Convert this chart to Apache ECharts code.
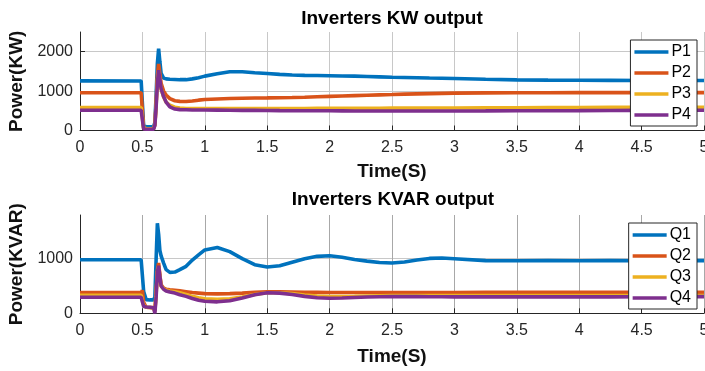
<!DOCTYPE html>
<html><head><meta charset="utf-8">
<script src="https://cdn.jsdelivr.net/npm/echarts@6/dist/echarts.min.js"></script>
<style>html,body{margin:0;padding:0;background:#fff}#c{width:705px;height:371px}</style>
</head><body><div id="c"></div>
<script>
// time samples (s)
const time = [0,0.49,0.5,0.51,0.53,0.56,0.59,0.60,0.61,0.62,0.63,0.64,0.65,0.67,0.69,0.72,0.76,0.8,0.85,0.9,0.95,1.0,1.1,1.2,1.3,1.4,1.5,1.6,1.7,1.8,1.9,2.0,2.1,2.2,2.3,2.4,2.5,2.6,2.7,2.8,2.9,3.0,3.25,3.5,3.75,4.0,4.25,4.5,4.75,5.0];
// Inverters KW output
const p1 = [1260,1258,1250,110,100,95,100,200,900,1700,2080,1750,1450,1330,1310,1300,1295,1290,1290,1310,1340,1380,1440,1490,1490,1465,1445,1425,1410,1400,1395,1390,1385,1380,1370,1360,1350,1345,1340,1332,1326,1320,1300,1285,1278,1276,1272,1268,1268,1268];
const p2 = [960,960,955,60,50,45,50,150,700,1400,1690,1450,1200,1000,900,810,755,740,735,750,770,785,800,812,820,825,828,832,838,845,855,865,875,885,895,905,912,922,930,937,943,948,955,958,960,962,962,962,962,962];
const p3 = [585,585,580,60,50,45,50,150,650,1250,1520,1300,1050,850,720,640,590,570,560,556,555,555,555,556,557,558,558,559,560,560,561,562,563,564,565,566,567,568,569,570,571,572,575,578,582,585,588,590,592,592];
const p4 = [515,515,510,40,30,30,35,130,600,1200,1530,1300,1060,860,720,600,545,530,525,520,520,520,518,515,512,510,508,505,503,501,500,500,498,496,495,494,494,494,494,494,495,495,497,500,503,505,508,512,515,515];
// Inverters KVAR output
const q1 = [980,980,975,400,250,245,245,300,1000,1650,1450,1150,1050,920,800,750,755,800,860,975,1070,1160,1205,1130,1000,890,848,870,935,1000,1043,1055,1025,985,955,930,920,940,975,1005,1012,1000,965,963,965,963,965,963,965,965];
const q2 = [380,380,420,200,110,105,100,50,400,800,920,700,520,460,440,430,420,410,395,380,370,360,355,360,370,385,392,392,390,386,383,380,380,380,381,382,382,382,382,382,382,382,383,383,383,383,383,383,383,383];
const q3 = [330,330,360,150,110,105,100,30,350,750,860,680,500,450,425,410,395,375,345,310,285,265,255,265,300,345,375,375,360,335,315,305,305,310,318,322,325,325,325,325,325,325,325,325,325,325,325,325,325,325];
const q4 = [295,295,300,130,115,110,100,0,300,750,870,680,500,440,410,390,370,340,310,270,240,220,210,230,280,340,375,370,345,310,285,275,280,290,298,303,306,306,305,303,302,300,300,300,300,300,301,302,303,305];

const pNames = ['P1','P2','P3','P4'];
const qNames = ['Q1','Q2','Q3','Q4'];
const colors = ['#0072BD','#D95319','#EDB120','#7E2F8E'];
const titles = ['Inverters KW output','Inverters KVAR output'];
const yNames = ['Power(KW)','Power(KVAR)'];
const xName = 'Time(S)';

const FONT = '"Liberation Sans", Arial, Helvetica, sans-serif';
const pts = arr => time.map((t, i) => [t, arr[i]]);

function xAx(gi, gridColor, gap) {
  return {
    type: 'value', gridIndex: gi, min: 0, max: 5, interval: 0.5,
    name: xName, nameLocation: 'middle', nameGap: gap,
    nameTextStyle: {fontFamily: FONT, fontSize: 19, fontWeight: 'bold', color: '#111'},
    axisLine: {show: true, lineStyle: {color: '#262626', width: 1}},
    axisTick: {show: true, inside: true, length: 5, lineStyle: {color: '#262626'}},
    axisLabel: {margin: 9, fontFamily: FONT, fontSize: 16, color: '#262626', formatter: v => String(v)},
    splitLine: {show: true, showMinLine: false, lineStyle: {color: gridColor, width: 1}}
  };
}
function yAx(gi, max, name) {
  return {
    type: 'value', gridIndex: gi, min: 0, max: max, interval: 1000,
    name: name, nameLocation: 'middle', nameGap: 43,
    nameTextStyle: {fontFamily: FONT, fontSize: 19, fontWeight: 'bold', color: '#111'},
    axisLine: {show: true, lineStyle: {color: '#262626', width: 1}},
    axisTick: {show: true, inside: true, length: 5, lineStyle: {color: '#262626'}},
    axisLabel: {margin: 7, fontFamily: FONT, fontSize: 16, color: '#262626', showMaxLabel: false, formatter: v => String(v)},
    splitLine: {show: true, showMinLine: false, showMaxLine: false, lineStyle: {color: '#c8c8c8', width: 1}}
  };
}
function legendCfg(names, top) {
  return {
    data: names, orient: 'vertical', right: 8, top: top,
    icon: 'rect', itemWidth: 34, itemHeight: 3.5, itemGap: 5,
    padding: [4, 6, 3, 4],
    backgroundColor: '#fff', borderColor: '#262626', borderWidth: 1, borderRadius: 0,
    textStyle: {fontFamily: FONT, fontSize: 16, color: '#000', padding: [0, 0, 0, -2]}
  };
}
const series = [];
[p1, p2, p3, p4].forEach((d, i) => series.push({
  name: pNames[i], type: 'line', xAxisIndex: 0, yAxisIndex: 0, data: pts(d),
  showSymbol: false, symbol: 'none', color: colors[i], lineStyle: {width: 3.6, color: colors[i]}
}));
[q1, q2, q3, q4].forEach((d, i) => series.push({
  name: qNames[i], type: 'line', xAxisIndex: 1, yAxisIndex: 1, data: pts(d),
  showSymbol: false, symbol: 'none', color: colors[i], lineStyle: {width: 3.6, color: colors[i]}
}));

const chart = echarts.init(document.getElementById('c'));
chart.setOption({
  animation: false,
  backgroundColor: '#fff',
  grid: [
    {left: 80, top: 32, width: 624, height: 98.5, outerBoundsMode: 'none', containLabel: false},
    {left: 80, top: 215, width: 624, height: 98.3, outerBoundsMode: 'none', containLabel: false}
  ],
  xAxis: [xAx(0, '#c8c8c8', 32), xAx(1, '#a8a8a8', 34)],
  yAxis: [yAx(0, 2500, yNames[0]), yAx(1, 1800, yNames[1])],
  legend: [legendCfg(pNames, 40), legendCfg(qNames, 223)],
  graphic: [
    {type: 'text', x: 392, y: 19, style: {text: titles[0], font: 'bold 19px ' + FONT, fill: '#000', textAlign: 'center', textVerticalAlign: 'middle'}},
    {type: 'text', x: 393, y: 200, style: {text: titles[1], font: 'bold 19px ' + FONT, fill: '#000', textAlign: 'center', textVerticalAlign: 'middle'}}
  ],
  series: series
});
</script></body></html>
